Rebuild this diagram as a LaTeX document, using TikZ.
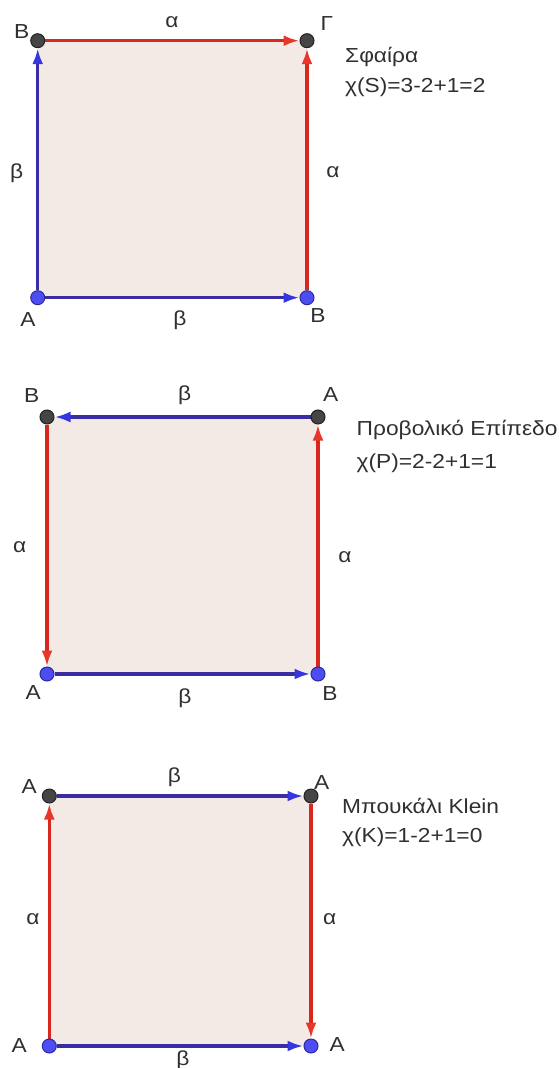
\documentclass[tikz,border=0pt]{standalone}
\usepackage{fontspec}
\setmainfont{Liberation Sans}[FakeStretch=1.12]
\usepackage{xcolor}
\usetikzlibrary{arrows.meta,backgrounds}
\definecolor{sheet}{HTML}{F3EAE6}
\definecolor{txt}{HTML}{303030}
\definecolor{redline}{HTML}{D8281E}
\definecolor{redtip}{HTML}{E8362B}
\definecolor{blueline}{HTML}{3A2CA2}
\definecolor{bluetip}{HTML}{3636E0}
\definecolor{dotgrey}{HTML}{454545}
\definecolor{dotedge}{HTML}{222222}
\definecolor{dotblue}{HTML}{4D4DF2}
\definecolor{dotblueedge}{HTML}{2A2AA0}

\begin{document}
\begin{tikzpicture}[
  x=1pt, y=-1pt,
  font=\fontsize{20.3}{24}\selectfont, text=txt,
  dot/.style={circle, inner sep=0pt, minimum size=14pt, line width=1pt},
  upper/.style={dot, fill=dotgrey, draw=dotedge},
  lower/.style={dot, fill=dotblue, draw=dotblueedge},
  lbl/.style={inner sep=0pt},
  caption/.style={inner sep=0pt, anchor=west},
  edgea/.style={line width=3.5pt, draw=redline, -{Latex[length=16pt,width=11pt,color=redtip]}},
  edgeb/.style={line width=3.5pt, draw=blueline, -{Latex[length=16pt,width=11pt,color=bluetip]}}
]
\useasboundingbox (0,0) rectangle (559,1068);

\node[upper] (sB)  at (37.7,40.7) {};
\node[upper] (sG)  at (307,40.7) {};
\node[lower] (sA)  at (37.7,297.7) {};
\node[lower] (sBb) at (307,297.7) {};

\node[lbl] (sBl)  at (21.7,31.7) {Β};
\node[lbl] (sGl)  at (327,24) {Γ};
\node[lbl] (sAl)  at (28,320) {Α};
\node[lbl] (sBbl) at (318,316) {Β};

\node[lbl] (sat) at (172,21.7) {α};
\node[lbl] (sbl) at (16.7,173) {β};
\node[lbl] (sar) at (333,172) {α};
\node[lbl] (sbb) at (180,320) {β};

\node[caption] (sname) at (345,57) {Σφαίρα};
\node[caption] (schi)  at (345,87) {χ(S)=3-2+1=2};

\node[upper] (pB)  at (47,417) {};
\node[upper] (pA)  at (318,417) {};
\node[lower] (pAb) at (47,674) {};
\node[lower] (pBb) at (318,674) {};

\node[lbl] (pBl)  at (31.7,396) {Β};
\node[lbl] (pAl)  at (330.7,395) {Α};
\node[lbl] (pAbl) at (33.3,692.7) {Α};
\node[lbl] (pBbl) at (330,694) {Β};

\node[lbl] (pbt) at (184.7,395) {β};
\node[lbl] (pal) at (19.6,547) {α};
\node[lbl] (par) at (345,557) {α};
\node[lbl] (pbb) at (185,698) {β};

\node[caption] (pname) at (356.5,430) {Προβολικό Επίπεδο};
\node[caption] (pchi)  at (356.5,463) {χ(P)=2-2+1=1};

\node[upper] (k1) at (49.3,796) {};
\node[upper] (k2) at (311,796) {};
\node[lower] (k3) at (49.3,1046) {};
\node[lower] (k4) at (311,1046) {};

\node[lbl] (k1l) at (29.3,786.7) {Α};
\node[lbl] (k2l) at (321.7,783) {Α};
\node[lbl] (k3l) at (19.3,1046) {Α};
\node[lbl] (k4l) at (337.3,1045) {Α};

\node[lbl] (kbt) at (174.5,777) {β};
\node[lbl] (kal) at (33,919) {α};
\node[lbl] (kar) at (329.7,919) {α};
\node[lbl] (kbb) at (182.8,1060) {β};

\node[caption] (kname) at (342,806) {Μπουκάλι Klein};
\node[caption] (kchi)  at (342,837) {χ(K)=1-2+1=0};

\begin{pgfonlayer}{background}
\fill[sheet] (sA.center) rectangle (sG.center);
\fill[sheet] (pAb.center) rectangle (pA.center);
\fill[sheet] (k3.center) rectangle (k2.center);

\draw[edgeb] (sA) -- (sB);
\draw[edgea] (sB) -- (sG);
\draw[edgea] (sBb) -- (sG);
\draw[edgeb] (sA) -- (sBb);

\draw[edgeb] (pA) -- (pB);
\draw[edgea] (pB) -- (pAb);
\draw[edgea] (pBb) -- (pA);
\draw[edgeb] (pAb) -- (pBb);

\draw[edgeb] (k1) -- (k2);
\draw[edgea] (k3) -- (k1);
\draw[edgea] (k2) -- (k4);
\draw[edgeb] (k3) -- (k4);
\end{pgfonlayer}

\end{tikzpicture}
\end{document}
